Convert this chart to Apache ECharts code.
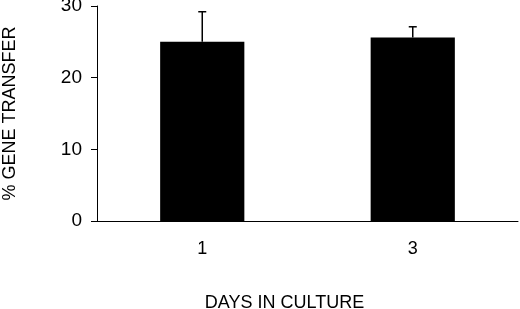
<!DOCTYPE html>
<html>
<head>
    <meta charset="utf-8">
    <script src="https://cdn.jsdelivr.net/npm/echarts@6/dist/echarts.min.js"></script>
    <style>
        html, body { margin: 0; padding: 0; background: #fff; }
        #main { width: 520px; height: 309px; }
    </style>
</head>

<body>
    <div id="main"></div>

    <script type="text/javascript">
        var days = ['1', '3']
        var transfer = [25.0, 25.6]
        var errorTop = [29.2, 27.1]
        var yTicks = [0, 10, 20, 30]

        var myChart = echarts.init(document.getElementById('main'), null, { renderer: 'canvas' });

        var font = 'Liberation Sans, Arial, Helvetica, sans-serif'

        var errData = days.map(function (d, i) {
            return [i, transfer[i], errorTop[i]];
        });

        myChart.setOption({
            animation: false,
            textStyle: { fontFamily: font, color: '#000' },
            grid: {
                left: 97,
                right: 2,
                top: 6,
                bottom: 88,
                containLabel: false,
                outerBoundsMode: 'none'
            },
            xAxis: {
                type: 'category',
                data: days,
                name: 'DAYS IN CULTURE',
                nameLocation: 'middle',
                nameGap: 73,
                nameTextStyle: {
                    fontSize: 18,
                    color: '#000',
                    fontFamily: font,
                    padding: [0, 46, 0, 0]
                },
                axisLine: { lineStyle: { color: '#000', width: 1 } },
                axisTick: { length: 5, lineStyle: { color: '#000' } },
                axisLabel: { fontSize: 18, color: '#000', margin: 19, fontFamily: font }
            },
            yAxis: {
                type: 'value',
                min: yTicks[0],
                max: yTicks[yTicks.length - 1],
                interval: 10,
                name: '% GENE TRANSFER',
                nameLocation: 'middle',
                nameGap: 78,
                nameTextStyle: { fontSize: 18, color: '#000', fontFamily: font },
                splitLine: { show: false },
                axisLine: { show: true, lineStyle: { color: '#000', width: 1 } },
                axisTick: { show: true, length: 6, lineStyle: { color: '#000' } },
                axisLabel: { fontSize: 19, color: '#000', margin: 15, padding: [3, 0, 0, 0], fontFamily: font }
            },
            series: [{
                type: 'bar',
                data: transfer,
                barWidth: '40%',
                itemStyle: { color: '#000' }
            }, {
                type: 'custom',
                data: errData,
                z: 5,
                renderItem: function (params, api) {
                    var x = api.value(0);
                    var base = api.coord([x, api.value(1)]);
                    var top = api.coord([x, api.value(2)]);
                    var style = { stroke: '#000', lineWidth: 1.5 };
                    return {
                        type: 'group',
                        children: [{
                            type: 'line',
                            shape: { x1: top[0], y1: base[1], x2: top[0], y2: top[1] },
                            style: style
                        }, {
                            type: 'line',
                            shape: { x1: top[0] - 4, y1: top[1], x2: top[0] + 4, y2: top[1] },
                            style: style
                        }]
                    };
                }
            }]
        })
    </script>
</body>

</html>
